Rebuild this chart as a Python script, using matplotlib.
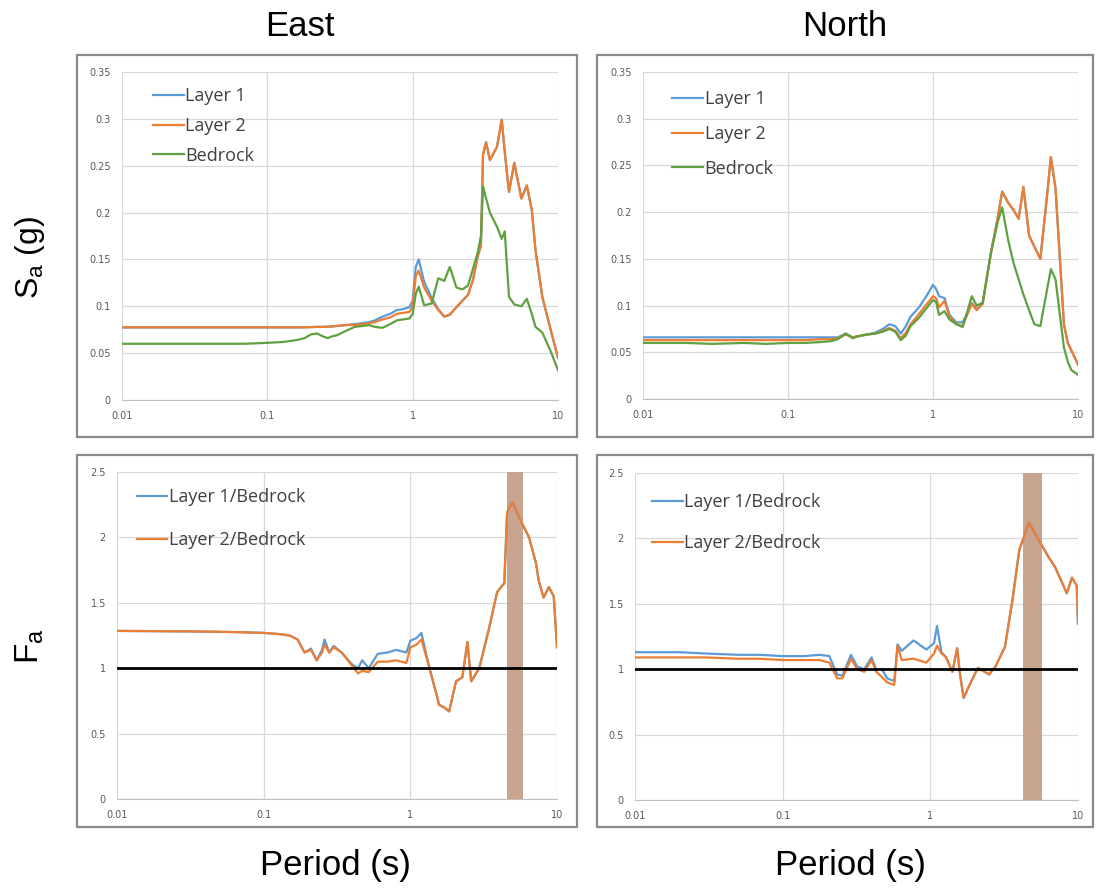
import numpy as np
import matplotlib.pyplot as plt
from matplotlib.patches import Rectangle

# spectral acceleration, East component
period_e = [0.01, 0.03, 0.07, 0.1, 0.13, 0.16, 0.18, 0.2, 0.22, 0.24, 0.26, 0.28, 0.3,
            0.35, 0.4, 0.45, 0.5, 0.55, 0.62, 0.7, 0.78, 0.86, 0.95, 1.0, 1.05, 1.1,
            1.2, 1.35, 1.5, 1.65, 1.8, 2.0, 2.2, 2.4, 2.6, 2.8, 2.95, 3.05, 3.2, 3.4,
            3.8, 4.1, 4.3, 4.6, 5.0, 5.6, 6.1, 6.6, 7.0, 7.8, 8.9, 10]
sa_e_layer1 = [0.0775, 0.0775, 0.0775, 0.0775, 0.0775, 0.0775, 0.0776, 0.0778, 0.078, 0.078,
               0.0782, 0.0785, 0.079, 0.080, 0.081, 0.082, 0.083, 0.085, 0.089, 0.092,
               0.096, 0.097, 0.099, 0.106, 0.142, 0.150, 0.126, 0.109, 0.097, 0.089,
               0.091, 0.099, 0.106, 0.112, 0.128, 0.153, 0.165, 0.262, 0.275, 0.256,
               0.270, 0.299, 0.265, 0.222, 0.253, 0.215, 0.229, 0.203, 0.160, 0.110,
               0.075, 0.045]
sa_e_layer2 = [0.0775, 0.0775, 0.0775, 0.0775, 0.0775, 0.0775, 0.0776, 0.0778, 0.078, 0.078,
               0.0782, 0.0785, 0.079, 0.080, 0.080, 0.081, 0.082, 0.083, 0.086, 0.088,
               0.092, 0.093, 0.094, 0.100, 0.132, 0.138, 0.120, 0.106, 0.096, 0.089,
               0.091, 0.099, 0.106, 0.112, 0.128, 0.153, 0.165, 0.262, 0.275, 0.256,
               0.270, 0.299, 0.265, 0.222, 0.253, 0.215, 0.229, 0.203, 0.160, 0.110,
               0.075, 0.045]
sa_e_bedrock = [0.060, 0.060, 0.060, 0.061, 0.062, 0.064, 0.066, 0.070, 0.071, 0.068,
                0.066, 0.068, 0.069, 0.074, 0.078, 0.079, 0.080, 0.078, 0.077, 0.081,
                0.085, 0.086, 0.087, 0.092, 0.113, 0.121, 0.101, 0.103, 0.130, 0.127,
                0.142, 0.120, 0.118, 0.122, 0.140, 0.157, 0.175, 0.228, 0.215, 0.200,
                0.185, 0.172, 0.180, 0.110, 0.102, 0.100, 0.108, 0.092, 0.078, 0.072,
                0.052, 0.032]

# spectral acceleration, North component
period_n = [0.01, 0.02, 0.03, 0.05, 0.07, 0.1, 0.13, 0.17, 0.2, 0.22, 0.25, 0.28, 0.3,
            0.35, 0.4, 0.45, 0.5, 0.55, 0.6, 0.65, 0.7, 0.8, 0.9, 1.0, 1.05, 1.1, 1.2,
            1.3, 1.45, 1.6, 1.7, 1.85, 2.0, 2.2, 2.5, 2.8, 3.0, 3.3, 3.6, 3.9, 4.2,
            4.6, 5.0, 5.5, 6.0, 6.5, 7.0, 7.5, 8.0, 8.5, 9.0, 10]
sa_n_layer1 = [0.066, 0.066, 0.066, 0.066, 0.066, 0.066, 0.066, 0.066, 0.066, 0.066,
               0.070, 0.066, 0.067, 0.069, 0.071, 0.075, 0.080, 0.078, 0.070, 0.078,
               0.088, 0.098, 0.110, 0.122, 0.118, 0.110, 0.108, 0.090, 0.082, 0.082,
               0.090, 0.103, 0.096, 0.102, 0.155, 0.195, 0.222, 0.210, 0.202, 0.193,
               0.227, 0.175, 0.163, 0.150, 0.205, 0.259, 0.225, 0.150, 0.080, 0.060,
               0.052, 0.037]
sa_n_layer2 = [0.063, 0.063, 0.063, 0.063, 0.063, 0.063, 0.063, 0.064, 0.064, 0.065,
               0.069, 0.066, 0.067, 0.069, 0.070, 0.073, 0.076, 0.073, 0.065, 0.071,
               0.080, 0.091, 0.101, 0.110, 0.108, 0.098, 0.105, 0.088, 0.080, 0.078,
               0.088, 0.102, 0.095, 0.102, 0.155, 0.195, 0.222, 0.210, 0.202, 0.193,
               0.227, 0.175, 0.163, 0.150, 0.205, 0.259, 0.225, 0.150, 0.080, 0.060,
               0.052, 0.037]
sa_n_bedrock = [0.060, 0.060, 0.059, 0.060, 0.059, 0.060, 0.060, 0.061, 0.062, 0.064,
                0.070, 0.065, 0.067, 0.069, 0.070, 0.072, 0.075, 0.072, 0.063, 0.068,
                0.078, 0.087, 0.097, 0.106, 0.104, 0.090, 0.094, 0.085, 0.080, 0.077,
                0.090, 0.110, 0.100, 0.103, 0.155, 0.190, 0.205, 0.170, 0.145, 0.128,
                0.112, 0.095, 0.080, 0.078, 0.110, 0.139, 0.128, 0.090, 0.055, 0.040,
                0.031, 0.026]

# amplification ratios, East
period_fe = [0.01, 0.02, 0.04, 0.07, 0.1, 0.13, 0.15, 0.17, 0.19, 0.21, 0.23, 0.25, 0.26,
             0.28, 0.3, 0.34, 0.4, 0.44, 0.47, 0.52, 0.6, 0.7, 0.8, 0.94, 1.0, 1.1, 1.19,
             1.35, 1.5, 1.57, 1.7, 1.84, 2.05, 2.26, 2.45, 2.6, 2.95, 3.45, 3.9, 4.37,
             4.57, 4.95, 5.7, 6.45, 7.2, 7.5, 8.1, 8.8, 9.5, 10]
fa_e_layer1 = [1.285, 1.283, 1.28, 1.275, 1.27, 1.26, 1.25, 1.22, 1.12, 1.15, 1.06, 1.14,
               1.22, 1.12, 1.17, 1.12, 1.03, 1.00, 1.06, 1.00, 1.11, 1.12, 1.14, 1.12,
               1.21, 1.23, 1.27, 1.00, 0.81, 0.72, 0.70, 0.67, 0.90, 0.93, 1.20, 0.90,
               1.00, 1.31, 1.58, 1.65, 2.19, 2.27, 2.12, 2.00, 1.80, 1.67, 1.54, 1.62,
               1.55, 1.16]
fa_e_layer2 = [1.285, 1.283, 1.28, 1.275, 1.27, 1.26, 1.25, 1.22, 1.12, 1.14, 1.06, 1.12,
               1.18, 1.12, 1.16, 1.12, 1.02, 0.96, 0.98, 0.97, 1.05, 1.05, 1.06, 1.04,
               1.16, 1.18, 1.22, 1.00, 0.81, 0.72, 0.70, 0.67, 0.90, 0.93, 1.20, 0.90,
               1.00, 1.31, 1.58, 1.65, 2.19, 2.27, 2.12, 2.00, 1.80, 1.67, 1.54, 1.62,
               1.55, 1.16]

# amplification ratios, North
period_fn = [0.01, 0.02, 0.03, 0.05, 0.07, 0.1, 0.14, 0.178, 0.207, 0.234, 0.254, 0.29,
             0.32, 0.357, 0.4, 0.43, 0.47, 0.51, 0.57, 0.6, 0.64, 0.77, 0.94, 1.06, 1.11,
             1.19, 1.28, 1.41, 1.52, 1.58, 1.68, 1.88, 2.1, 2.5, 2.76, 3.2, 3.6, 4.0,
             4.65, 5.4, 6.3, 7.0, 8.4, 9.1, 9.8, 10]
fa_n_layer1 = [1.13, 1.13, 1.12, 1.11, 1.11, 1.10, 1.10, 1.11, 1.10, 0.96, 0.95, 1.11,
               1.02, 1.00, 1.09, 1.00, 1.00, 0.93, 0.91, 1.19, 1.14, 1.22, 1.15, 1.20,
               1.33, 1.13, 1.09, 0.98, 1.16, 0.98, 0.78, 0.90, 1.01, 0.96, 1.02, 1.17,
               1.53, 1.91, 2.12, 1.99, 1.86, 1.78, 1.58, 1.70, 1.64, 1.35]
fa_n_layer2 = [1.09, 1.09, 1.09, 1.08, 1.08, 1.07, 1.07, 1.07, 1.05, 0.93, 0.93, 1.08,
               1.00, 0.98, 1.07, 0.98, 0.94, 0.90, 0.88, 1.18, 1.07, 1.08, 1.05, 1.12,
               1.18, 1.12, 1.09, 0.98, 1.16, 0.98, 0.78, 0.90, 1.01, 0.96, 1.02, 1.17,
               1.53, 1.91, 2.12, 1.99, 1.86, 1.78, 1.58, 1.70, 1.64, 1.35]

# predominant period bands
band_e = (4.55, 5.9)
band_n = (4.25, 5.7)

BLUE = '#5b9bd5'
ORANGE = '#ed7d31'
GREEN = '#5fa040'
TICK = '#595959'
GRID = '#d9d9d9'

plt.rcParams['mathtext.default'] = 'regular'
title_font = ['Liberation Sans Narrow', 'Liberation Sans', 'DejaVu Sans']
legend_font = ['Open Sans', 'DejaVu Sans']

fig = plt.figure(figsize=(11.01, 8.91), dpi=100)

# chart boxes (pixel extents converted to figure fractions)
W, H = 1101, 891
for x0, y0, x1, y1 in [(77, 55, 577, 437), (597, 55, 1093, 437),
                       (77, 455, 577, 827), (597, 455, 1093, 827)]:
    fig.patches.append(Rectangle((x0 / W, 1 - y1 / H), (x1 - x0) / W, (y1 - y0) / H,
                                 transform=fig.transFigure, fill=False,
                                 edgecolor='#8a8a8a', linewidth=1.6))

ax_se = fig.add_axes([122 / W, 1 - 400 / H, 436 / W, 328 / H])
ax_sn = fig.add_axes([643 / W, 1 - 399 / H, 435 / W, 327 / H])
ax_fe = fig.add_axes([117 / W, 1 - 799 / H, 440 / W, 327 / H])
ax_fn = fig.add_axes([635 / W, 1 - 800 / H, 443 / W, 327 / H])


def style(ax, ymax, ystep, fmt):
    ax.set_xscale('log')
    ax.set_xlim(0.01, 10)
    ax.set_ylim(0, ymax)
    ax.set_xticks([0.01, 0.1, 1, 10])
    ax.set_xticklabels(['0.01', '0.1', '1', '10'])
    ax.xaxis.set_minor_locator(plt.NullLocator())
    yt = np.arange(0, ymax + ystep / 2, ystep)
    ax.set_yticks(yt)
    ax.set_yticklabels([fmt(v) for v in yt])
    ax.grid(True, color=GRID, linewidth=0.9)
    ax.set_axisbelow(True)
    for s in ['top', 'right', 'left']:
        ax.spines[s].set_visible(False)
    ax.spines['bottom'].set_color('#bfbfbf')
    ax.tick_params(length=0, labelsize=7, labelcolor=TICK, pad=8)


def fmt_top(v):
    return '0' if v == 0 else f'{v:.2f}'.rstrip('0')


def fmt_bot(v):
    return f'{v:g}'


for ax, per, l1, l2, bed in [(ax_se, period_e, sa_e_layer1, sa_e_layer2, sa_e_bedrock),
                             (ax_sn, period_n, sa_n_layer1, sa_n_layer2, sa_n_bedrock)]:
    style(ax, 0.35, 0.05, fmt_top)
    ax.plot(per, l1, color=BLUE, lw=1.6, label='Layer 1')
    ax.plot(per, l2, color=ORANGE, lw=1.6, label='Layer 2')
    ax.plot(per, bed, color=GREEN, lw=1.6, label='Bedrock')

for ax, per, r1, r2, band in [(ax_fe, period_fe, fa_e_layer1, fa_e_layer2, band_e),
                              (ax_fn, period_fn, fa_n_layer1, fa_n_layer2, band_n)]:
    style(ax, 2.5, 0.5, fmt_bot)
    ax.axvspan(band[0], band[1], color='#c49a82', alpha=0.9, lw=0, zorder=1.5)
    ax.plot(per, r1, color=BLUE, lw=1.6, label='Layer 1/Bedrock', zorder=2)
    ax.plot(per, r2, color=ORANGE, lw=1.6, label='Layer 2/Bedrock', zorder=2.1)
    ax.axhline(1, color='black', lw=2, zorder=3)

leg_kw = dict(frameon=False, loc='upper left', borderpad=0, borderaxespad=0,
              handlelength=1.7, handletextpad=0.1,
              prop={'family': legend_font, 'size': 13})
for ax, anchor, spacing in [(ax_se, (0.071, 0.953), 0.64), (ax_sn, (0.067, 0.944), 0.92),
                            (ax_fe, (0.045, 0.950), 1.37), (ax_fn, (0.038, 0.938), 1.27)]:
    leg = ax.legend(bbox_to_anchor=anchor, labelspacing=spacing, **leg_kw)
    for t in leg.get_texts():
        t.set_color('#404040')

fig.text(300 / W, 1 - 26 / H, 'East', ha='center', va='center', fontsize=25, family=title_font)
fig.text(845 / W, 1 - 26 / H, 'North', ha='center', va='center', fontsize=25, family=title_font)
fig.text(335 / W, 1 - 866 / H, 'Period (s)', ha='center', va='center', fontsize=25, family=title_font)
fig.text(850 / W, 1 - 866 / H, 'Period (s)', ha='center', va='center', fontsize=25, family=title_font)
fig.text(30 / W, 1 - 257 / H, 'S$_a$ (g)', ha='center', va='center', rotation=90,
         fontsize=23, family=title_font)
fig.text(30 / W, 1 - 646 / H, 'F$_a$', ha='center', va='center', rotation=90,
         fontsize=24, family=title_font)

fig.savefig('out.png', dpi=100, facecolor='white')
